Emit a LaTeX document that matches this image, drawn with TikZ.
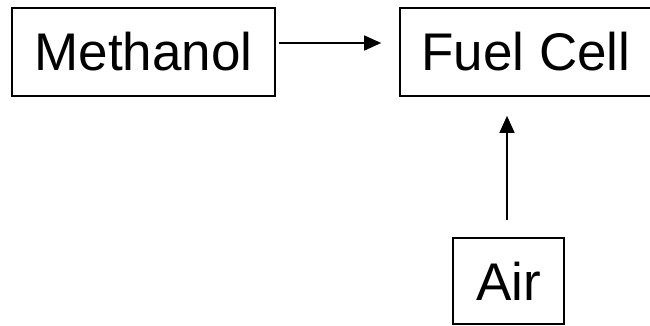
\documentclass[tikz,border=0pt]{standalone}
\usepackage{fontspec}
\setmainfont{Liberation Sans}
\usetikzlibrary{arrows.meta}
\tikzset{
  blockbox/.style={draw, line width=1.7pt, inner sep=0pt, font=\fontsize{53}{60}\selectfont},
  feedline/.style={line width=1.5pt, -{Triangle[length=17pt,width=15pt]}}
}
\begin{document}
\begin{tikzpicture}[x=1pt,y=1pt]
   \def\Xa{143.5}
   \def\Xb{526}
   \def\Xc{508.5}
   \def\Y{273}
   \def\Yc{44}
   \useasboundingbox (0,0) rectangle (650,325);

        % boxes
        \node[blockbox, minimum width=263pt, minimum height=88pt] (meth) at (\Xa, \Y) {Methanol};
        \node[blockbox, minimum width=252pt, minimum height=88pt] (fuel) at (\Xb, \Y) {Fuel Cell};
        \node[blockbox, minimum width=111pt, minimum height=86pt] (air) at (\Xc, \Yc) {Air};
        % arrows
        \draw[feedline] ([xshift=3pt, yshift=9pt]meth.east) -- ([xshift=-18pt, yshift=9pt]fuel.west);
        \draw[feedline] ([xshift=-1.5pt, yshift=17pt]air.north) -- ([xshift=-19pt, yshift=-19pt]fuel.south);
\end{tikzpicture}
\end{document}
